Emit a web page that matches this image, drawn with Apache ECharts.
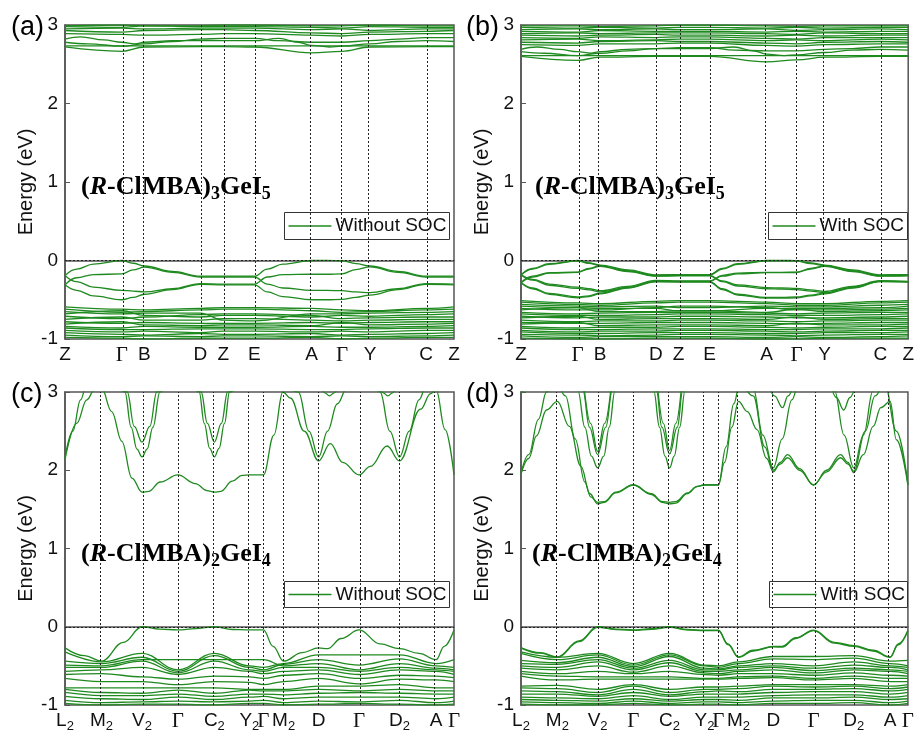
<!DOCTYPE html>
<html>
<head>
<meta charset="utf-8">
<script src="https://cdn.jsdelivr.net/npm/echarts@6/dist/echarts.min.js"></script>
<style>
  html, body { margin: 0; padding: 0; background: #fff; }
  #chart { width: 917px; height: 733px; }
</style>
</head>
<body>
<div id="chart"></div>
<script>
// ---- k-path (fraction of path length) and high-symmetry labels ----
const ticksAB = [0, 0.146, 0.204, 0.348, 0.407, 0.487, 0.634, 0.712, 0.784, 0.928, 1];
const labelsAB = ['Z', 'Γ', 'B', 'D', 'Z', 'E', 'A', 'Γ', 'Y', 'C', 'Z'];
const ticksCD = [0, 0.094, 0.198, 0.29, 0.384, 0.474, 0.51, 0.562, 0.652, 0.756, 0.86, 0.954, 1];
const labelsCD = ['L2', 'M2', 'V2', 'Γ', 'C2', 'Y2', 'Γ', 'M2', 'D', 'Γ', 'D2', 'A', 'Γ'];
const energyTicks = [-1, 0, 1, 2, 3];

// ---- (a) (R-ClMBA)3GeI5, without SOC ----
// bands given either as [k, E] pairs or as E at each high-symmetry point
const valTopA = [
  [[0,-0.19],[0.03,-0.11],[0.073,-0.045],[0.146,0],[0.175,-0.035],[0.204,-0.07],[0.276,-0.14],[0.348,-0.2],[0.407,-0.2],[0.487,-0.2],[0.52,-0.11],[0.56,-0.045],[0.634,0],[0.673,0.002],[0.712,-0.003],[0.748,-0.04],[0.784,-0.07],[0.856,-0.14],[0.928,-0.2],[1,-0.2]],
  [[0,-0.31],[0.03,-0.22],[0.073,-0.18],[0.146,-0.17],[0.175,-0.12],[0.204,-0.085],[0.276,-0.15],[0.348,-0.21],[0.407,-0.21],[0.487,-0.21],[0.52,-0.3],[0.56,-0.35],[0.634,-0.38],[0.673,-0.38],[0.712,-0.385],[0.748,-0.4],[0.784,-0.41],[0.856,-0.36],[0.928,-0.295],[1,-0.3]],
  [[0,-0.19],[0.03,-0.27],[0.073,-0.34],[0.146,-0.38],[0.175,-0.39],[0.204,-0.4],[0.276,-0.36],[0.348,-0.295],[0.407,-0.3],[0.487,-0.3],[0.52,-0.21],[0.56,-0.18],[0.634,-0.175],[0.673,-0.175],[0.712,-0.17],[0.748,-0.115],[0.784,-0.08],[0.856,-0.15],[0.928,-0.21],[1,-0.21]],
  [[0,-0.31],[0.03,-0.38],[0.073,-0.45],[0.146,-0.5],[0.175,-0.47],[0.204,-0.43],[0.276,-0.37],[0.348,-0.305],[0.407,-0.31],[0.487,-0.31],[0.52,-0.4],[0.56,-0.46],[0.634,-0.5],[0.673,-0.5],[0.712,-0.495],[0.748,-0.47],[0.784,-0.44],[0.856,-0.37],[0.928,-0.305],[1,-0.31]]
];
const valDeepA = [
  [-0.59,-0.62,-0.63,-0.61,-0.60,-0.60,-0.61,-0.63,-0.64,-0.61,-0.59],
  [-0.62,-0.66,-0.65,-0.63,-0.62,-0.62,-0.64,-0.66,-0.65,-0.63,-0.62],
  [-0.65,-0.68,-0.67,-0.67,-0.76,-0.77,-0.68,-0.68,-0.67,-0.66,-0.65],
  [-0.68,-0.64,-0.70,-0.72,-0.70,-0.70,-0.72,-0.70,-0.71,-0.69,-0.68],
  [-0.71,-0.74,-0.72,-0.69,-0.68,-0.68,-0.70,-0.74,-0.73,-0.72,-0.72],
  [-0.75,-0.72,-0.76,-0.76,-0.74,-0.74,-0.76,-0.77,-0.76,-0.75,-0.75],
  [-0.78,-0.80,-0.79,-0.80,-0.80,-0.80,-0.79,-0.80,-0.79,-0.78,-0.78],
  [-0.81,-0.78,-0.82,-0.83,-0.82,-0.82,-0.83,-0.79,-0.82,-0.81,-0.80],
  [-0.84,-0.86,-0.84,-0.85,-0.85,-0.85,-0.84,-0.85,-0.85,-0.84,-0.83],
  [-0.86,-0.88,-0.88,-0.87,-0.87,-0.87,-0.88,-0.88,-0.87,-0.86,-0.86],
  [-0.89,-0.91,-0.90,-0.92,-0.90,-0.90,-0.91,-0.90,-0.91,-0.89,-0.89],
  [-0.92,-0.94,-0.95,-0.93,-0.94,-0.94,-0.93,-0.95,-0.94,-0.93,-0.92],
  [-0.95,-0.97,-0.96,-0.97,-0.96,-0.96,-0.97,-0.96,-0.97,-0.96,-0.95],
  [-0.98,-0.99,-1.00,-0.99,-0.99,-0.99,-0.98,-1.00,-0.99,-0.98,-0.98]
];
const condA = [
  [2.72,2.665,2.72,2.725,2.725,2.72,2.645,2.665,2.72,2.725,2.725],
  [2.735,2.735,2.735,2.735,2.735,2.735,2.735,2.735,2.735,2.735,2.735],
  [[0,2.82],[0.04,2.85],[0.1,2.81],[0.146,2.78],[0.18,2.76],[0.204,2.78],[0.276,2.8],[0.348,2.8],[0.407,2.8],[0.487,2.8],[0.55,2.83],[0.6,2.78],[0.634,2.74],[0.68,2.72],[0.712,2.73],[0.784,2.76],[0.856,2.79],[0.928,2.8],[1,2.79]],
  [[0,2.78],[0.06,2.76],[0.146,2.73],[0.204,2.76],[0.276,2.79],[0.348,2.82],[0.407,2.83],[0.487,2.83],[0.55,2.8],[0.634,2.78],[0.712,2.78],[0.784,2.8],[0.856,2.82],[0.928,2.84],[1,2.84]],
  [2.89,2.88,2.87,2.88,2.89,2.89,2.87,2.86,2.88,2.89,2.89],
  [2.93,2.91,2.93,2.94,2.94,2.93,2.90,2.89,2.91,2.92,2.93],
  [2.95,2.96,2.95,2.96,2.96,2.96,2.94,2.95,2.93,2.95,2.95],
  [2.98,2.97,2.99,2.98,2.98,2.98,2.97,2.96,2.98,2.97,2.97],
  [2.99,3.00,2.99,2.99,3.00,3.00,2.99,2.99,3.00,2.99,2.99]
];

// ---- (b) (R-ClMBA)3GeI5, with SOC ----
const valTopB = [
  [[0,-0.18],[0.03,-0.1],[0.073,-0.04],[0.146,0],[0.175,-0.03],[0.204,-0.058],[0.276,-0.12],[0.348,-0.182],[0.407,-0.18],[0.487,-0.18],[0.52,-0.1],[0.56,-0.04],[0.634,0],[0.673,0.002],[0.712,-0.002],[0.748,-0.03],[0.784,-0.058],[0.856,-0.12],[0.928,-0.182],[1,-0.18]],
  [[0,-0.185],[0.03,-0.11],[0.073,-0.05],[0.146,-0.006],[0.175,-0.035],[0.204,-0.065],[0.276,-0.135],[0.348,-0.19],[0.407,-0.186],[0.487,-0.186],[0.52,-0.11],[0.56,-0.05],[0.634,-0.006],[0.673,-0.004],[0.712,-0.008],[0.748,-0.038],[0.784,-0.066],[0.856,-0.135],[0.928,-0.19],[1,-0.186]],
  [[0,-0.28],[0.03,-0.2],[0.073,-0.155],[0.146,-0.148],[0.175,-0.1],[0.204,-0.068],[0.276,-0.128],[0.348,-0.195],[0.407,-0.19],[0.487,-0.19],[0.52,-0.26],[0.56,-0.31],[0.634,-0.345],[0.673,-0.35],[0.712,-0.355],[0.748,-0.375],[0.784,-0.395],[0.856,-0.33],[0.928,-0.258],[1,-0.265]],
  [[0,-0.285],[0.03,-0.21],[0.073,-0.16],[0.146,-0.152],[0.175,-0.108],[0.204,-0.074],[0.276,-0.14],[0.348,-0.2],[0.407,-0.195],[0.487,-0.195],[0.52,-0.27],[0.56,-0.325],[0.634,-0.36],[0.673,-0.365],[0.712,-0.37],[0.748,-0.39],[0.784,-0.41],[0.856,-0.345],[0.928,-0.265],[1,-0.27]],
  [[0,-0.18],[0.03,-0.24],[0.073,-0.3],[0.146,-0.34],[0.175,-0.36],[0.204,-0.385],[0.276,-0.33],[0.348,-0.255],[0.407,-0.26],[0.487,-0.26],[0.52,-0.19],[0.56,-0.16],[0.634,-0.15],[0.673,-0.15],[0.712,-0.148],[0.748,-0.1],[0.784,-0.07],[0.856,-0.13],[0.928,-0.195],[1,-0.19]],
  [[0,-0.185],[0.03,-0.25],[0.073,-0.315],[0.146,-0.355],[0.175,-0.375],[0.204,-0.4],[0.276,-0.345],[0.348,-0.262],[0.407,-0.265],[0.487,-0.265],[0.52,-0.2],[0.56,-0.17],[0.634,-0.155],[0.673,-0.155],[0.712,-0.153],[0.748,-0.108],[0.784,-0.076],[0.856,-0.14],[0.928,-0.2],[1,-0.196]],
  [[0,-0.28],[0.03,-0.35],[0.073,-0.42],[0.146,-0.465],[0.175,-0.45],[0.204,-0.415],[0.276,-0.34],[0.348,-0.265],[0.407,-0.27],[0.487,-0.27],[0.52,-0.36],[0.56,-0.43],[0.634,-0.47],[0.673,-0.47],[0.712,-0.465],[0.748,-0.44],[0.784,-0.415],[0.856,-0.34],[0.928,-0.262],[1,-0.27]],
  [[0,-0.285],[0.03,-0.36],[0.073,-0.43],[0.146,-0.475],[0.175,-0.46],[0.204,-0.425],[0.276,-0.35],[0.348,-0.272],[0.407,-0.275],[0.487,-0.275],[0.52,-0.37],[0.56,-0.44],[0.634,-0.48],[0.673,-0.48],[0.712,-0.475],[0.748,-0.45],[0.784,-0.425],[0.856,-0.35],[0.928,-0.27],[1,-0.275]]
];
const valDeepB = [
  [-0.51,-0.54,-0.55,-0.52,-0.51,-0.51,-0.53,-0.55,-0.55,-0.52,-0.51],
  [-0.53,-0.56,-0.57,-0.54,-0.53,-0.53,-0.55,-0.57,-0.57,-0.54,-0.53],
  [-0.56,-0.58,-0.59,-0.58,-0.60,-0.60,-0.58,-0.59,-0.59,-0.57,-0.56],
  [-0.58,-0.60,-0.61,-0.61,-0.64,-0.64,-0.61,-0.61,-0.61,-0.60,-0.58],
  [-0.61,-0.63,-0.63,-0.60,-0.58,-0.58,-0.60,-0.63,-0.63,-0.62,-0.61],
  [-0.63,-0.60,-0.65,-0.65,-0.64,-0.64,-0.66,-0.62,-0.65,-0.64,-0.63],
  [-0.66,-0.68,-0.67,-0.66,-0.66,-0.66,-0.67,-0.68,-0.67,-0.66,-0.66],
  [-0.68,-0.70,-0.70,-0.69,-0.68,-0.68,-0.69,-0.70,-0.70,-0.69,-0.68],
  [-0.71,-0.73,-0.72,-0.72,-0.71,-0.71,-0.72,-0.73,-0.73,-0.72,-0.71],
  [-0.73,-0.71,-0.75,-0.74,-0.74,-0.74,-0.75,-0.72,-0.75,-0.74,-0.74],
  [-0.76,-0.78,-0.77,-0.77,-0.76,-0.76,-0.77,-0.78,-0.77,-0.76,-0.76],
  [-0.79,-0.80,-0.80,-0.79,-0.79,-0.79,-0.80,-0.81,-0.80,-0.79,-0.79],
  [-0.81,-0.79,-0.83,-0.82,-0.82,-0.82,-0.83,-0.80,-0.82,-0.82,-0.81],
  [-0.84,-0.86,-0.85,-0.85,-0.84,-0.84,-0.85,-0.86,-0.85,-0.84,-0.84],
  [-0.86,-0.88,-0.88,-0.87,-0.87,-0.87,-0.88,-0.88,-0.87,-0.87,-0.86],
  [-0.89,-0.91,-0.90,-0.90,-0.89,-0.89,-0.90,-0.91,-0.90,-0.89,-0.89],
  [-0.91,-0.93,-0.93,-0.92,-0.92,-0.92,-0.93,-0.93,-0.92,-0.92,-0.91],
  [-0.94,-0.95,-0.96,-0.95,-0.94,-0.94,-0.95,-0.96,-0.95,-0.94,-0.94],
  [-0.96,-0.98,-0.97,-0.97,-0.97,-0.97,-0.98,-0.97,-0.98,-0.97,-0.96],
  [-0.99,-1.00,-1.00,-0.99,-0.99,-0.99,-1.00,-1.00,-0.99,-0.99,-0.99]
];
const condB = [
  [2.60,2.55,2.59,2.60,2.60,2.60,2.53,2.555,2.59,2.60,2.60],
  [2.61,2.61,2.61,2.61,2.61,2.61,2.61,2.61,2.61,2.61,2.61],
  [[0,2.69],[0.04,2.72],[0.1,2.69],[0.146,2.66],[0.18,2.64],[0.204,2.66],[0.276,2.69],[0.348,2.7],[0.407,2.7],[0.487,2.7],[0.55,2.72],[0.6,2.67],[0.634,2.63],[0.68,2.61],[0.712,2.62],[0.784,2.65],[0.856,2.68],[0.928,2.69],[1,2.68]],
  [[0,2.66],[0.06,2.64],[0.146,2.61],[0.204,2.64],[0.276,2.67],[0.348,2.7],[0.407,2.71],[0.487,2.71],[0.55,2.68],[0.634,2.67],[0.712,2.67],[0.784,2.69],[0.856,2.7],[0.928,2.72],[1,2.72]],
  [2.75,2.74,2.76,2.76,2.77,2.77,2.74,2.73,2.75,2.76,2.76],
  [2.78,2.77,2.79,2.80,2.79,2.79,2.77,2.76,2.78,2.79,2.78],
  [2.81,2.82,2.80,2.81,2.82,2.82,2.80,2.81,2.80,2.82,2.81],
  [2.84,2.83,2.85,2.84,2.85,2.85,2.83,2.82,2.84,2.84,2.84],
  [2.87,2.86,2.87,2.88,2.87,2.87,2.86,2.87,2.86,2.87,2.87],
  [2.89,2.90,2.89,2.90,2.90,2.90,2.89,2.88,2.90,2.89,2.89],
  [2.92,2.91,2.93,2.92,2.92,2.92,2.91,2.92,2.91,2.92,2.92],
  [2.94,2.95,2.94,2.95,2.94,2.94,2.95,2.93,2.94,2.95,2.94],
  [2.97,2.96,2.97,2.96,2.97,2.97,2.96,2.97,2.96,2.97,2.97],
  [2.99,2.99,2.98,2.99,3.00,3.00,2.99,2.98,2.99,2.99,2.99]
];

// ---- (c) (R-ClMBA)2GeI4, without SOC ----
const valTopC = [
  [[0,-0.27],[0.05,-0.37],[0.094,-0.44],[0.15,-0.2],[0.198,0],[0.243,-0.03],[0.29,-0.04],[0.335,-0.025],[0.384,0],[0.43,-0.035],[0.474,-0.04],[0.51,-0.04],[0.535,-0.25],[0.562,-0.44],[0.61,-0.33],[0.652,-0.27],[0.675,-0.28],[0.71,-0.15],[0.756,-0.04],[0.81,-0.22],[0.86,-0.28],[0.91,-0.34],[0.954,-0.42],[0.975,-0.25],[1,-0.04]]
];
const valDeepC = [
  [-0.32,-0.45,-0.34,-0.55,-0.34,-0.50,-0.52,-0.47,-0.36,-0.36,-0.36,-0.47,-0.42],
  [-0.44,-0.47,-0.39,-0.57,-0.37,-0.52,-0.55,-0.48,-0.42,-0.49,-0.41,-0.50,-0.52],
  [-0.49,-0.50,-0.42,-0.42,-0.42,-0.42,-0.42,-0.50,-0.47,-0.55,-0.47,-0.53,-0.55],
  [-0.52,-0.52,-0.44,-0.59,-0.44,-0.55,-0.57,-0.52,-0.52,-0.57,-0.52,-0.55,-0.57],
  [-0.57,-0.55,-0.52,-0.61,-0.52,-0.57,-0.60,-0.57,-0.55,-0.61,-0.55,-0.57,-0.61],
  [-0.61,-0.60,-0.64,-0.67,-0.63,-0.64,-0.66,-0.62,-0.60,-0.66,-0.62,-0.63,-0.65],
  [-0.66,-0.70,-0.70,-0.74,-0.70,-0.71,-0.74,-0.70,-0.66,-0.73,-0.67,-0.68,-0.70],
  [-0.78,-0.78,-0.78,-0.78,-0.78,-0.80,-0.80,-0.80,-0.76,-0.76,-0.74,-0.78,-0.78],
  [-0.80,-0.84,-0.85,-0.81,-0.85,-0.81,-0.82,-0.82,-0.80,-0.82,-0.80,-0.82,-0.82],
  [-0.84,-0.88,-0.88,-0.86,-0.89,-0.86,-0.86,-0.87,-0.85,-0.84,-0.85,-0.86,-0.86],
  [-0.89,-0.92,-0.93,-0.90,-0.93,-0.90,-0.89,-0.92,-0.90,-0.90,-0.90,-0.92,-0.90],
  [-0.94,-0.97,-0.96,-0.95,-0.96,-0.95,-0.94,-0.97,-0.95,-0.96,-0.94,-0.97,-0.95],
  [-0.98,-1.00,-0.99,-0.99,-1.00,-0.98,-0.98,-1.00,-0.99,-0.98,-0.99,-1.00,-0.99]
];
const condC = [
  [[0,2.14],[0.03,2.6],[0.056,2.9],[0.075,3.02],[0.094,3.05],[0.12,2.75],[0.146,2.37],[0.172,1.9],[0.198,1.72],[0.215,1.73],[0.245,1.85],[0.29,1.94],[0.335,1.83],[0.365,1.74],[0.384,1.72],[0.4,1.73],[0.43,1.86],[0.455,1.935],[0.474,1.94],[0.51,1.94],[0.537,2.45],[0.56,3.0],[0.58,2.92],[0.615,2.5],[0.652,2.12],[0.682,2.34],[0.714,2.1],[0.756,1.94],[0.785,2.05],[0.828,2.31],[0.86,2.12],[0.914,2.78],[0.94,2.98],[0.954,3.03],[0.977,2.52],[1,1.94]],
  [[0,2.16],[0.02,2.5],[0.04,2.9],[0.06,3.2],[0.1,3.4],[0.154,3.0],[0.17,2.55],[0.185,2.27],[0.198,2.17],[0.211,2.27],[0.226,2.55],[0.244,3.0],[0.29,3.4],[0.345,3.0],[0.358,2.6],[0.372,2.28],[0.384,2.17],[0.396,2.28],[0.41,2.6],[0.423,3.0],[0.5,3.4],[0.6,3.0],[0.627,2.5],[0.652,2.17],[0.675,2.5],[0.7,2.85],[0.725,3.05],[0.77,3.4],[0.81,3.0],[0.835,2.5],[0.86,2.17],[0.885,2.5],[0.91,2.9],[0.93,3.1],[1,3.4]],
  [[0,3.4],[0.1,3.4],[0.16,3.0],[0.178,2.56],[0.198,2.36],[0.218,2.56],[0.236,3.0],[0.29,3.4],[0.35,3.0],[0.366,2.6],[0.384,2.36],[0.402,2.6],[0.418,3.0],[0.5,3.4],[1,3.4]],
  [[0.655,3.1],[0.668,2.99],[0.68,2.95],[0.692,2.99],[0.705,3.1]],
  [[0.805,3.1],[0.818,2.99],[0.83,2.95],[0.842,2.99],[0.855,3.1]]
];

// ---- (d) (R-ClMBA)2GeI4, with SOC ----
const valTopD = [
  [[0,-0.265],[0.05,-0.33],[0.094,-0.385],[0.15,-0.18],[0.198,0],[0.245,-0.03],[0.29,-0.04],[0.337,-0.025],[0.384,0],[0.43,-0.035],[0.474,-0.045],[0.51,-0.045],[0.535,-0.22],[0.562,-0.385],[0.6,-0.3],[0.652,-0.25],[0.675,-0.25],[0.71,-0.14],[0.756,-0.045],[0.81,-0.2],[0.86,-0.24],[0.91,-0.3],[0.954,-0.385],[0.975,-0.22],[1,-0.045]],
  [[0,-0.272],[0.05,-0.338],[0.094,-0.392],[0.15,-0.19],[0.198,-0.008],[0.245,-0.036],[0.29,-0.046],[0.337,-0.032],[0.384,-0.008],[0.43,-0.041],[0.474,-0.05],[0.51,-0.05],[0.535,-0.228],[0.562,-0.392],[0.6,-0.31],[0.652,-0.258],[0.675,-0.26],[0.71,-0.15],[0.756,-0.05],[0.81,-0.21],[0.86,-0.25],[0.91,-0.31],[0.954,-0.392],[0.975,-0.23],[1,-0.05]]
];
const valDeepD = [
  [-0.32,-0.39,-0.34,-0.47,-0.34,-0.49,-0.50,-0.45,-0.38,-0.38,-0.37,-0.44,-0.43],
  [-0.34,-0.42,-0.36,-0.49,-0.36,-0.50,-0.52,-0.47,-0.41,-0.42,-0.40,-0.47,-0.50],
  [-0.43,-0.46,-0.39,-0.51,-0.38,-0.53,-0.54,-0.50,-0.47,-0.50,-0.45,-0.50,-0.52],
  [-0.47,-0.48,-0.42,-0.53,-0.43,-0.55,-0.55,-0.52,-0.50,-0.53,-0.49,-0.52,-0.55],
  [-0.50,-0.52,-0.45,-0.55,-0.46,-0.57,-0.57,-0.55,-0.52,-0.56,-0.53,-0.55,-0.57],
  [-0.53,-0.55,-0.50,-0.58,-0.50,-0.59,-0.60,-0.57,-0.55,-0.59,-0.55,-0.57,-0.60],
  [-0.57,-0.60,-0.57,-0.60,-0.57,-0.61,-0.62,-0.60,-0.60,-0.62,-0.59,-0.62,-0.63],
  [-0.60,-0.63,-0.64,-0.64,-0.64,-0.66,-0.66,-0.64,-0.63,-0.66,-0.63,-0.66,-0.66],
  [-0.63,-0.68,-0.67,-0.67,-0.67,-0.67,-0.67,-0.66,-0.65,-0.68,-0.66,-0.70,-0.70],
  [-0.76,-0.75,-0.80,-0.74,-0.80,-0.77,-0.77,-0.76,-0.74,-0.74,-0.74,-0.76,-0.74],
  [-0.78,-0.79,-0.84,-0.76,-0.84,-0.80,-0.80,-0.79,-0.76,-0.77,-0.76,-0.79,-0.77],
  [-0.82,-0.83,-0.87,-0.80,-0.87,-0.83,-0.82,-0.83,-0.80,-0.80,-0.79,-0.82,-0.80],
  [-0.86,-0.86,-0.89,-0.84,-0.89,-0.86,-0.86,-0.86,-0.84,-0.83,-0.83,-0.86,-0.84],
  [-0.90,-0.91,-0.92,-0.88,-0.93,-0.90,-0.90,-0.90,-0.88,-0.87,-0.87,-0.90,-0.88],
  [-0.93,-0.94,-0.95,-0.92,-0.95,-0.93,-0.93,-0.94,-0.91,-0.91,-0.90,-0.93,-0.92],
  [-0.96,-0.97,-0.98,-0.95,-0.98,-0.96,-0.96,-0.97,-0.95,-0.94,-0.94,-0.97,-0.95],
  [-0.99,-1.00,-1.00,-0.98,-1.00,-0.99,-0.99,-1.00,-0.98,-0.98,-0.97,-1.00,-0.98]
];
const condD = [
  [[0,1.95],[0.02,2.15],[0.04,2.44],[0.066,2.77],[0.094,2.88],[0.125,2.56],[0.155,2.05],[0.178,1.7],[0.198,1.57],[0.215,1.59],[0.245,1.71],[0.29,1.81],[0.337,1.69],[0.365,1.59],[0.384,1.57],[0.4,1.58],[0.43,1.7],[0.455,1.79],[0.474,1.81],[0.51,1.81],[0.526,2.1],[0.545,2.55],[0.562,2.88],[0.585,2.75],[0.61,2.52],[0.635,2.15],[0.652,1.98],[0.67,2.1],[0.689,2.2],[0.72,2.02],[0.756,1.81],[0.79,2.0],[0.826,2.2],[0.845,2.1],[0.86,1.97],[0.885,2.2],[0.91,2.56],[0.93,2.8],[0.954,2.88],[0.97,2.39],[1,1.81]],
  [[0,1.96],[0.02,2.2],[0.045,2.65],[0.066,3.0],[0.09,3.12],[0.115,2.95],[0.14,2.4],[0.165,1.85],[0.18,1.66],[0.198,1.59],[0.215,1.6],[0.245,1.72],[0.29,1.815],[0.337,1.7],[0.365,1.6],[0.384,1.59],[0.4,1.6],[0.43,1.71],[0.455,1.795],[0.474,1.815],[0.51,1.815],[0.53,2.3],[0.55,2.85],[0.565,3.1],[0.6,2.95],[0.63,2.3],[0.652,2.0],[0.67,2.08],[0.689,2.16],[0.72,2.0],[0.756,1.815],[0.79,1.98],[0.826,2.16],[0.845,2.08],[0.86,1.99],[0.89,2.5],[0.915,2.95],[0.94,3.1],[0.97,2.5],[1,1.82]],
  [[0,2.98],[0.03,3.1],[0.09,3.3],[0.147,3.02],[0.165,2.55],[0.182,2.18],[0.198,2.03],[0.214,2.18],[0.228,2.55],[0.243,3.02],[0.3,3.3],[0.343,3.02],[0.358,2.55],[0.372,2.18],[0.384,2.03],[0.396,2.18],[0.41,2.55],[0.424,3.02],[0.5,3.3],[0.6,3.05],[0.625,2.45],[0.652,2.03],[0.675,2.4],[0.7,2.9],[0.72,3.15],[0.76,3.3],[0.81,3.02],[0.835,2.45],[0.86,2.03],[0.885,2.45],[0.91,3.02],[0.95,3.3],[1,3.2]],
  [[0,3.3],[0.1,3.3],[0.16,3.02],[0.177,2.55],[0.198,2.2],[0.219,2.55],[0.236,3.02],[0.3,3.3],[0.35,3.02],[0.364,2.55],[0.384,2.21],[0.404,2.55],[0.418,3.02],[0.5,3.3],[1,3.3]],
  [[0.164,3.02],[0.18,2.6],[0.198,2.24],[0.216,2.6],[0.232,3.02]],
  [[0.354,3.02],[0.368,2.6],[0.384,2.25],[0.4,2.6],[0.414,3.02]],
  [[0.64,3.1],[0.655,2.95],[0.676,2.8],[0.69,2.95],[0.705,3.1]],
  [[0.8,3.1],[0.815,2.93],[0.834,2.77],[0.85,2.93],[0.865,3.1]]
];

// ---- drawing ----
const GREEN = '#1f8a1f';
const FRAME = '#555';
const SANS = 'Liberation Sans, Arial, sans-serif';
const SERIF = 'Liberation Serif, Times New Roman, serif';

const panels = [
  { grid: { left: 65, top: 25, width: 389, height: 314 }, ticks: ticksAB, labels: labelsAB,
    bands: [].concat(valTopA, valDeepA, condA) },
  { grid: { left: 521, top: 25, width: 389, height: 314 }, ticks: ticksAB, labels: labelsAB,
    bands: [].concat(valTopB, valDeepB, condB) },
  { grid: { left: 65, top: 392, width: 389, height: 315 }, ticks: ticksCD, labels: labelsCD,
    bands: [].concat(valTopC, valDeepC, condC) },
  { grid: { left: 521, top: 392, width: 390, height: 315 }, ticks: ticksCD, labels: labelsCD,
    bands: [].concat(valTopD, valDeepD, condD) }
];

function toPoints(band, ticks) {
  if (typeof band[0] === 'number') return band.map((e, i) => [ticks[i], e]);
  return band;
}

function richLabel(s) {
  if (s === 'Γ') return '{g|Γ}';
  if (s.length === 2 && /\d/.test(s[1])) return '{m|' + s[0] + '}{s|' + s[1] + '}';
  return '{m|' + s + '}';
}

const grids = [], xAxes = [], yAxes = [], series = [];
panels.forEach((p, gi) => {
  grids.push(Object.assign({ show: true, borderColor: FRAME, borderWidth: 1.5, backgroundColor: 'transparent' }, p.grid));
  xAxes.push({
    type: 'value', gridIndex: gi, min: 0, max: 1,
    axisLine: { show: true, lineStyle: { color: FRAME, width: 1.5 } },
    axisTick: { show: false },
    splitLine: { show: false },
    axisLabel: {
      customValues: p.ticks, margin: 4, hideOverlap: false, showMinLabel: true, showMaxLabel: true,
      formatter: v => {
        const i = p.ticks.findIndex(t => Math.abs(t - v) < 1e-6);
        return i < 0 ? '' : richLabel(p.labels[i]);
      },
      rich: {
        m: { fontFamily: SANS, fontSize: 19, color: '#111', lineHeight: 24 },
        s: { fontFamily: SANS, fontSize: 13, color: '#111', lineHeight: 12, verticalAlign: 'bottom' },
        g: { fontFamily: SERIF, fontSize: 21, color: '#111', lineHeight: 24 }
      }
    }
  });
  yAxes.push({
    type: 'value', gridIndex: gi, min: -1, max: 3, interval: 1,
    name: 'Energy (eV)', nameLocation: 'middle', nameGap: 29, nameRotate: 90,
    nameTextStyle: { fontFamily: SANS, fontSize: 20, color: '#111' },
    axisLine: { show: true, lineStyle: { color: FRAME, width: 1.5 } },
    axisTick: { show: true, inside: true, length: 5, lineStyle: { color: FRAME } },
    splitLine: { show: false },
    axisLabel: { fontFamily: SANS, fontSize: 19, color: '#111', margin: 7 }
  });
  p.bands.forEach((b, bi) => {
    const s = {
      type: 'line', xAxisIndex: gi, yAxisIndex: gi,
      data: toPoints(b, p.ticks),
      symbol: 'none', showSymbol: false, smooth: 0.4, smoothMonotone: 'x',
      lineStyle: { color: GREEN, width: 1.3 }, silent: true, animation: false, z: 3
    };
    if (bi === 0) {
      s.markLine = {
        silent: true, symbol: ['none', 'none'], animation: false,
        label: { show: false },
        lineStyle: { color: '#222', type: [2, 2], width: 1 },
        data: p.ticks.slice(1, -1).map(t => ({ xAxis: t })).concat([{ yAxis: 0 }])
      };
    }
    series.push(s);
  });
});

// compound names, panel letters, legend boxes
const compoundRich = {
  b: { fontFamily: SERIF, fontWeight: 'bold', fontSize: 26, color: '#000', lineHeight: 32 },
  i: { fontFamily: SERIF, fontWeight: 'bold', fontStyle: 'italic', fontSize: 26, color: '#000', lineHeight: 32 },
  s: { fontFamily: SERIF, fontWeight: 'bold', fontSize: 18, color: '#000', lineHeight: 16, verticalAlign: 'bottom' }
};
function compound(x, y, n1, n2) {
  return { type: 'text', left: x, top: y, z: 10, silent: true,
    style: { text: '{b|(}{i|R}{b|-ClMBA)}{s|' + n1 + '}{b|GeI}{s|' + n2 + '}', rich: compoundRich } };
}
function letter(x, y, t) {
  return { type: 'text', left: x, top: y, z: 10, silent: true,
    style: { text: t, font: '27px ' + SANS, fill: '#000' } };
}
function legendBox(x, y, w, h, t) {
  return { type: 'group', left: x, top: y, z: 20, silent: true, children: [
    { type: 'rect', shape: { x: 0, y: 0, width: w, height: h }, style: { fill: '#fff', stroke: '#333', lineWidth: 1 } },
    { type: 'line', shape: { x1: 4, y1: h / 2, x2: 47, y2: h / 2 }, style: { stroke: GREEN, lineWidth: 1.5 } },
    { type: 'text', x: 51, y: h / 2, style: { text: t, font: '19px ' + SANS, fill: '#111', verticalAlign: 'middle' } }
  ] };
}

const chart = echarts.init(document.getElementById('chart'), null, { renderer: 'canvas' });
chart.setOption({
  animation: false,
  backgroundColor: '#fff',
  grid: grids, xAxis: xAxes, yAxis: yAxes, series: series,
  graphic: [
    letter(11, 14, '(a)'), letter(466, 14, '(b)'), letter(11, 381, '(c)'), letter(466, 381, '(d)'),
    compound(81, 174, '3', '5'), compound(535, 174, '3', '5'),
    compound(81, 541, '2', '4'), compound(532, 541, '2', '4'),
    legendBox(284, 212, 165, 27, 'Without SOC'), legendBox(768, 212, 139, 27, 'With SOC'),
    legendBox(284, 581, 165, 26, 'Without SOC'), legendBox(769, 581, 138, 26, 'With SOC')
  ]
});
</script>
</body>
</html>
